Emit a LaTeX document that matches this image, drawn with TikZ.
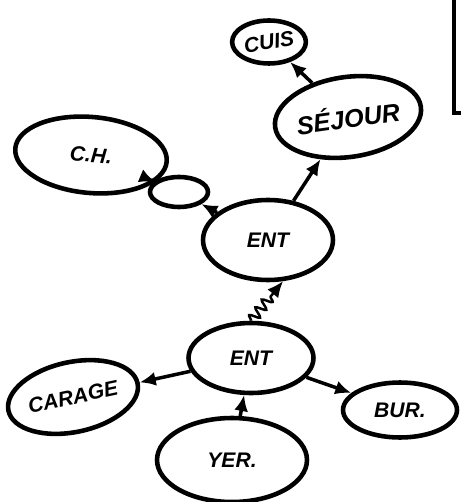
\documentclass[tikz,border=0pt]{standalone}
\usepackage{fontspec}
\setsansfont{Liberation Sans}
\usetikzlibrary{arrows.meta, positioning, shapes.geometric, decorations.pathmorphing}

\begin{document}
\begin{tikzpicture}[
    x=0.02cm, y=-0.02cm,
    room/.style={draw, ellipse, line width=2.6pt, inner sep=0pt, font=\sffamily\bfseries\itshape\large},
    link/.style={-{Latex[length=3.2mm, width=2.8mm]}, line width=2pt},
    wavy/.style={link, decorate, decoration={snake, amplitude=1mm, segment length=2mm, post length=3.5mm}}
]
    \useasboundingbox (0,0) rectangle (460,502);

    % upper part
    \node[room, minimum width=1.04cm, minimum height=0.86cm] (cuis) at (269,42) {\rotatebox{10}{CUIS}};
    \node[room, minimum width=2.8cm, minimum height=1.6cm, rotate=8, font=\sffamily\bfseries\itshape\Large] (sejour) at (348,117) {SÉJOUR};
    \node[room, minimum width=3.04cm, minimum height=1.52cm, rotate=-5] (ch) at (91,155) {C.H.};
    \node[room, minimum width=1.16cm, minimum height=0.6cm] (sas) at (179,192) {};
    \node[room, minimum width=2.6cm, minimum height=1.6cm] (entA) at (268,240) {ENT};

    % lower part
    \node[room, minimum width=2.5cm, minimum height=1.4cm] (entB) at (251,358) {ENT};
    \node[room, minimum width=2.64cm, minimum height=1.4cm, rotate=12] (garage) at (73,397) {CARAGE};
    \node[room, minimum width=2.28cm, minimum height=1.1cm] (bur) at (400,410) {BUR.};
    \node[room, minimum width=3.0cm, minimum height=1.68cm] (ver) at (232,460) {YER.};

    % panel cut by the edge
    \node[draw, line width=2pt, minimum width=1cm, minimum height=2.6cm, anchor=south west] (panel) at (452,115) {};

    % Arrows
    \draw[link] (sejour) -- (cuis);
    \draw[link] (entA) -- (sejour);
    \draw[link] (entA) -- (sas);
    \draw[link] (sas) -- (ch);
    \draw[wavy, line width=1.4pt] (entB.north) -- (entA.290);
    \draw[link] (entB) -- (garage);
    \draw[link] (entB) -- (bur);
    \draw[link] (ver) -- (entB);

\end{tikzpicture}
\end{document}
